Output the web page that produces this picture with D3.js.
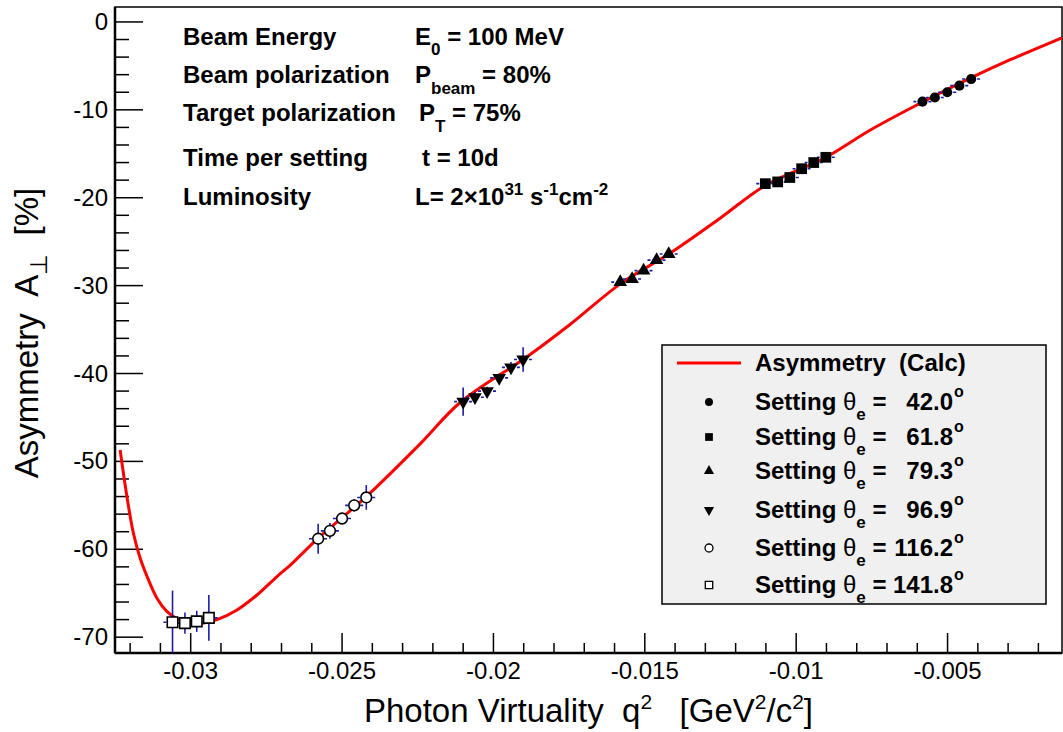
<!DOCTYPE html>
<html>
<head>
<meta charset="utf-8">
<script src="https://cdn.jsdelivr.net/npm/d3@7"></script>
<style>
  html, body { margin: 0; padding: 0; background: #fff; }
  svg { display: block; font-family: "Liberation Sans", Arial, Helvetica, sans-serif; }
  svg text { white-space: pre; }
</style>
</head>
<body>
<div id="svg-container"></div>
<script>
////////////////////////////////////////////////////////////////////
//////////////////////////////  Data  ///////////////////////////////
// calculated asymmetry curve (q2, A)
const curveQ = [-0.03233, -0.03222, -0.03205, -0.03189, -0.03167, -0.03144, -0.03111, -0.03078,
  -0.03045, -0.03001, -0.02957, -0.02913, -0.02847, -0.02781, -0.02715, -0.02671, -0.02578,
  -0.02500, -0.02423, -0.02242, -0.02110, -0.01889, -0.01746, -0.01581, -0.01416, -0.01250,
  -0.01102, -0.00904, -0.00755, -0.00584, -0.00425, -0.00293, -0.00122];
const curveA = [-48.7, -51.4, -55.2, -58.2, -61.0, -63.1, -65.6, -67.1,
  -67.9, -68.4, -68.4, -68.0, -66.9, -65.2, -63.1, -61.8, -58.7,
  -56.4, -54.1, -48.0, -43.3, -38.1, -34.4, -29.8, -26.3, -22.3,
  -18.6, -15.45, -12.3, -9.14, -6.4, -4.3, -1.8];

// settings
const settingNames = ["42.0", "61.8", "79.3", "96.9", "116.2", "141.8"];
const settingQ = [
  [-0.00583, -0.00542, -0.00501, -0.00461, -0.00422],
  [-0.01102, -0.01061, -0.01021, -0.00982, -0.00942, -0.00902],
  [-0.01581, -0.01542, -0.01504, -0.01461, -0.01421],
  [-0.02100, -0.02061, -0.02021, -0.01981, -0.01942, -0.01902],
  [-0.02579, -0.02540, -0.02500, -0.02460, -0.02420],
  [-0.03060, -0.03019, -0.02980, -0.02940]
];
const settingA = [
  [-9.07, -8.6, -8.0, -7.25, -6.5],
  [-18.4, -18.2, -17.7, -16.7, -16.0, -15.4],
  [-29.6, -29.25, -28.3, -27.1, -26.4],
  [-43.2, -42.7, -42.0, -40.5, -39.3, -38.4],
  [-58.8, -57.9, -56.5, -55.0, -54.1],
  [-68.3, -68.4, -68.2, -67.8]
];
const settingErr = [
  [0.3, 0.3, 0.3, 0.3, 0.3],
  [0.4, 0.4, 0.4, 0.4, 0.4, 0.4],
  [0.4, 0.4, 0.4, 0.4, 0.4],
  [1.6, 0.6, 0.5, 0.5, 0.6, 1.4],
  [1.7, 0.9, 0.6, 0.7, 1.4],
  [3.6, 1.2, 1.2, 2.6]
];
const qErr = 0.0003;

// axes
const xTicks = [-0.03, -0.025, -0.02, -0.015, -0.01, -0.005];
const xTickLabels = ["-0.03", "-0.025", "-0.02", "-0.015", "-0.01", "-0.005"];
const yTicks = [0, -10, -20, -30, -40, -50, -60, -70];

// info box
const infoLabels = ["Beam Energy", "Beam polarization", "Target polarization", "Time per setting", "Luminosity"];

////////////////////////////////////////////////////////////////////
//////////////////////////////  Init  ///////////////////////////////
const width = 1063, height = 732;
const margin = { top: 7, right: 1, bottom: 79, left: 115 };

const svg = d3.select("#svg-container").append("svg")
    .attr("width", width).attr("height", height);

const xScale = d3.scaleLinear().domain([-0.0325, -0.00122]).range([margin.left, width - margin.right]);
const yScale = d3.scaleLinear().domain([-71.8, 1.7]).range([height - margin.bottom, margin.top]);

const x0 = margin.left, x1 = width - margin.right;
const y0 = margin.top, y1 = height - margin.bottom;

svg.append("clipPath").attr("id", "plot-clip")
    .append("rect").attr("x", x0).attr("y", y0).attr("width", x1 - x0).attr("height", y1 - y0);

// frame
svg.append("rect")
    .attr("x", x0).attr("y", y0).attr("width", x1 - x0).attr("height", y1 - y0)
    .attr("fill", "none").attr("stroke", "#000").attr("stroke-width", 1.5);

// ticks
const yMinor = d3.range(-70, 1, 2).filter((v) => v % 10 !== 0);
const xMinor = d3.range(-32, -1, 1).map((v) => v / 1000).filter((v) => !xTicks.some((t) => Math.abs(t - v) < 1e-9));

const ticks = svg.append("g").attr("stroke", "#000").attr("stroke-width", 1.5);
ticks.selectAll(".ymaj").data(yTicks).enter().append("line")
    .attr("x1", x0).attr("x2", x0 + 28)
    .attr("y1", (d) => yScale(d)).attr("y2", (d) => yScale(d));
ticks.selectAll(".ymin").data(yMinor).enter().append("line")
    .attr("x1", x0).attr("x2", x0 + 14)
    .attr("y1", (d) => yScale(d)).attr("y2", (d) => yScale(d));
ticks.selectAll(".xmaj").data(xTicks).enter().append("line")
    .attr("y1", y1).attr("y2", y1 - 20)
    .attr("x1", (d) => xScale(d)).attr("x2", (d) => xScale(d));
ticks.selectAll(".xmin").data(xMinor).enter().append("line")
    .attr("y1", y1).attr("y2", y1 - 10)
    .attr("x1", (d) => xScale(d)).attr("x2", (d) => xScale(d));

// axis lines
svg.append("line").attr("x1", x0).attr("x2", x0).attr("y1", y0).attr("y2", y1)
    .attr("stroke", "#000").attr("stroke-width", 2.5);
svg.append("line").attr("x1", x0).attr("x2", x1).attr("y1", y1).attr("y2", y1)
    .attr("stroke", "#000").attr("stroke-width", 2.5);

// tick labels
svg.selectAll(".ylab").data(yTicks).enter().append("text")
    .attr("x", 108).attr("y", (d) => yScale(d) + 8)
    .attr("text-anchor", "end").attr("font-size", 24)
    .text((d) => d);
svg.selectAll(".xlab").data(xTicks).enter().append("text")
    .attr("x", (d) => xScale(d)).attr("y", 679)
    .attr("text-anchor", "middle").attr("font-size", 24)
    .text((d, i) => xTickLabels[i]);

// axis titles
const xt = svg.append("text")
    .attr("x", (x0 + x1) / 2).attr("y", 722)
    .attr("text-anchor", "middle").attr("font-size", 33);
xt.append("tspan").text("Photon Virtuality  q");
xt.append("tspan").attr("dy", -13).attr("font-size", 21).text("2");
xt.append("tspan").attr("dy", 13).text("   [GeV");
xt.append("tspan").attr("dy", -13).attr("font-size", 21).text("2");
xt.append("tspan").attr("dy", 13).text("/c");
xt.append("tspan").attr("dy", -13).attr("font-size", 21).text("2");
xt.append("tspan").attr("dy", 13).text("]");

const yt = svg.append("text")
    .attr("transform", `translate(38,${(y0 + y1) / 2 + 3}) rotate(-90)`)
    .attr("text-anchor", "middle").attr("font-size", 33);
yt.append("tspan").text("Asymmetry  A");
yt.append("tspan").attr("dy", 9).attr("font-size", 24).text("\u22A5");
yt.append("tspan").attr("dy", -9).text("  [%]");

////////////////////////////////////////////////////////////////////
//////////////////////////////  Curve  //////////////////////////////
const line = d3.line()
    .x((d, i) => xScale(curveQ[i]))
    .y((d) => yScale(d))
    .curve(d3.curveCatmullRom);

svg.append("path")
    .datum(curveA)
    .attr("clip-path", "url(#plot-clip)")
    .attr("d", line)
    .attr("fill", "none").attr("stroke", "#ff0000").attr("stroke-width", 3);

////////////////////////////////////////////////////////////////////
//////////////////////////////  Points  /////////////////////////////
const symbols = [d3.symbolCircle, d3.symbolSquare, d3.symbolTriangle, d3.symbolTriangle, d3.symbolCircle, d3.symbolSquare];
const sizes = [80, 115, 80, 80, 90, 110];
const legendSizes = [50, 60, 45, 45, 50, 55];
const filled = [true, true, true, true, false, false];
const flip = [false, false, false, true, false, false];

const points = [];
settingQ.forEach((qs, s) => qs.forEach((q, i) => {
    points.push({ s: s, q: q, a: settingA[s][i], e: settingErr[s][i] });
}));

const errG = svg.append("g").attr("clip-path", "url(#plot-clip)")
    .attr("stroke", "#1c1ca8").attr("stroke-width", 1.6);
errG.selectAll(".ev").data(points).enter().append("line")
    .attr("x1", (d) => xScale(d.q)).attr("x2", (d) => xScale(d.q))
    .attr("y1", (d) => yScale(d.a - d.e)).attr("y2", (d) => yScale(d.a + d.e));
errG.selectAll(".eh").data(points).enter().append("line")
    .attr("x1", (d) => xScale(d.q - qErr)).attr("x2", (d) => xScale(d.q + qErr))
    .attr("y1", (d) => yScale(d.a)).attr("y2", (d) => yScale(d.a))
    .attr("stroke-dasharray", "3,2");

svg.append("g").selectAll("path").data(points).enter().append("path")
    .attr("transform", (d) => `translate(${xScale(d.q)},${yScale(d.a)})` + (flip[d.s] ? " rotate(180)" : ""))
    .attr("d", (d) => d3.symbol().type(symbols[d.s]).size(sizes[d.s])())
    .attr("fill", (d) => filled[d.s] ? "#000" : "#fff")
    .attr("stroke", "#000")
    .attr("stroke-width", (d) => filled[d.s] ? 0 : 1.6);

////////////////////////////////////////////////////////////////////
//////////////////////////////  Info text  //////////////////////////
const infoY = [45, 83, 121, 166, 205];
svg.selectAll(".info").data(infoLabels).enter().append("text")
    .attr("x", 183).attr("y", (d, i) => infoY[i])
    .attr("font-size", 24).attr("font-weight", "bold")
    .text((d) => d);

const info = svg.append("g").attr("font-size", 24).attr("font-weight", "bold");
let t = info.append("text").attr("x", 415).attr("y", infoY[0]);
t.append("tspan").text("E");
t.append("tspan").attr("dy", 10).attr("font-size", 17).text("0");
t.append("tspan").attr("dy", -10).text(" = 100 MeV");

t = info.append("text").attr("x", 415).attr("y", infoY[1]);
t.append("tspan").text("P");
t.append("tspan").attr("dy", 11).attr("font-size", 17).text("beam");
t.append("tspan").attr("dy", -11).text(" = 80%");

t = info.append("text").attr("x", 419).attr("y", infoY[2]);
t.append("tspan").text("P");
t.append("tspan").attr("dy", 11).attr("font-size", 17).text("T");
t.append("tspan").attr("dy", -11).text(" = 75%");

info.append("text").attr("x", 422).attr("y", infoY[3]).text("t = 10d");

t = info.append("text").attr("x", 415).attr("y", infoY[4]);
t.append("tspan").text("L= 2\u00D710");
t.append("tspan").attr("dy", -10).attr("font-size", 17).text("31");
t.append("tspan").attr("dy", 10).text(" s");
t.append("tspan").attr("dy", -10).attr("font-size", 17).text("-1");
t.append("tspan").attr("dy", 10).text("cm");
t.append("tspan").attr("dy", -10).attr("font-size", 17).text("-2");

////////////////////////////////////////////////////////////////////
//////////////////////////////  Legend  /////////////////////////////
const lg = svg.append("g");
lg.append("rect").attr("x", 662).attr("y", 345).attr("width", 384).attr("height", 259)
    .attr("fill", "#f0f0f0").attr("stroke", "#000").attr("stroke-width", 1.5);

lg.append("line").attr("x1", 677).attr("x2", 741).attr("y1", 363).attr("y2", 363)
    .attr("stroke", "#ff0000").attr("stroke-width", 3);
lg.append("text").attr("x", 755).attr("y", 371)
    .attr("font-size", 24).attr("font-weight", "bold").text("Asymmetry  (Calc)");

const legendY = [402, 437, 471, 510, 548, 585];
settingNames.forEach((name, s) => {
    const cy = legendY[s];
    lg.append("path")
        .attr("transform", `translate(709,${cy})` + (flip[s] ? " rotate(180)" : ""))
        .attr("d", d3.symbol().type(symbols[s]).size(legendSizes[s])())
        .attr("fill", filled[s] ? "#000" : "#fff")
        .attr("stroke", "#000").attr("stroke-width", filled[s] ? 0 : 1.3);
    const tx = lg.append("text").attr("x", 755).attr("y", cy + 8)
        .attr("font-size", 24).attr("font-weight", "bold");
    tx.append("tspan").text("Setting ");
    tx.append("tspan").attr("font-weight", "normal").text("\u03B8");
    tx.append("tspan").attr("dy", 10).attr("font-size", 17).text("e");
    tx.append("tspan").attr("dy", -10).text(" =");
    lg.append("text").attr("x", 953).attr("y", cy + 8).attr("text-anchor", "end")
        .attr("font-size", 24).attr("font-weight", "bold").text(name);
    lg.append("text").attr("x", 954).attr("y", cy - 5)
        .attr("font-size", 16).attr("font-weight", "bold").text("o");
});
</script>
</body>
</html>
